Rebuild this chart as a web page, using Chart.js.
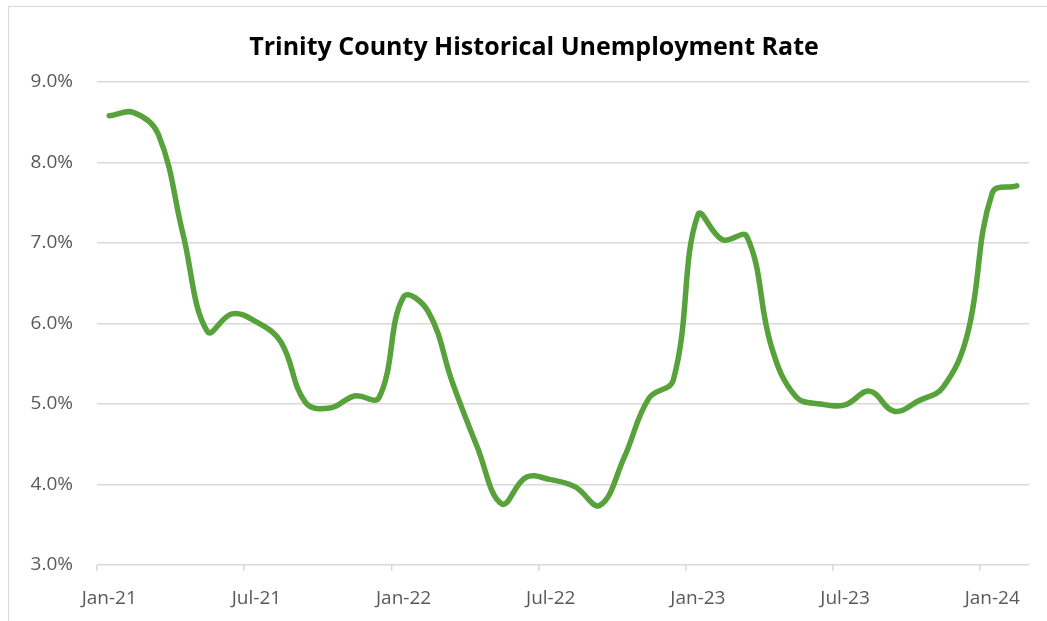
<!DOCTYPE html>
<html>
<head>
<meta charset="utf-8">
<title>Trinity County Historical Unemployment Rate</title>
<script src="https://cdn.jsdelivr.net/npm/chart.js@4/dist/chart.umd.min.js"></script>
<style>
  html, body { margin: 0; padding: 0; background: #fff; overflow: hidden; }
  #wrap { position: relative; width: 1047px; height: 621px; }
  #frame {
    position: absolute; left: 8px; top: 6px; width: 1100px; height: 700px;
    border-left: 1.5px solid #d9d9d9; border-top: 1.5px solid #d9d9d9;
    pointer-events: none;
  }
</style>
</head>
<body>
<div id="wrap">
  <canvas id="rateChart" width="1047" height="621"></canvas>
  <div id="frame"></div>
</div>
<script>
// Trinity County unemployment, monthly Jan-21 .. Feb-24
const MONTHS = [
  'Jan-21','Feb-21','Mar-21','Apr-21','May-21','Jun-21','Jul-21','Aug-21','Sep-21','Oct-21','Nov-21','Dec-21',
  'Jan-22','Feb-22','Mar-22','Apr-22','May-22','Jun-22','Jul-22','Aug-22','Sep-22','Oct-22','Nov-22','Dec-22',
  'Jan-23','Feb-23','Mar-23','Apr-23','May-23','Jun-23','Jul-23','Aug-23','Sep-23','Oct-23','Nov-23','Dec-23',
  'Jan-24','Feb-24'
];
const RATES = [
  8.58, 8.62, 8.35, 7.12, 5.90, 6.12, 6.02, 5.77, 5.02, 4.95, 5.10, 5.08,
  6.33, 6.15, 5.26, 4.47, 3.76, 4.09, 4.06, 3.97, 3.74, 4.34, 5.07, 5.30,
  7.35, 7.04, 7.08, 5.71, 5.09, 5.00, 4.99, 5.16, 4.91, 5.04, 5.21, 5.88,
  7.62, 7.71
];
const Y_MIN = 3;
const Y_MAX = 9;
const LABEL_EVERY = 6; // one x label per half year
const TITLE = 'Trinity County Historical Unemployment Rate';

const GRID = '#d9d9d9';
const TEXT = '#595959';
const GREEN = '#58a23c';

// title sits a little left of the plot centre, so draw it ourselves
const titlePlugin = {
  id: 'fixedTitle',
  afterDraw(chart) {
    const c = chart.ctx;
    c.save();
    c.font = 'bold 25px "Open Sans"';
    c.fillStyle = '#000';
    c.textAlign = 'center';
    c.textBaseline = 'middle';
    c.fillText(TITLE, 534, 48);
    c.restore();
  }
};

const ctx = document.getElementById('rateChart').getContext('2d');
new Chart(ctx, {
  type: 'line',
  data: {
    labels: MONTHS,
    datasets: [{
      label: 'Unemployment Rate',
      data: RATES,
      borderColor: GREEN,
      backgroundColor: 'transparent',
      borderWidth: 5.5,
      borderCapStyle: 'round',
      borderJoinStyle: 'round',
      tension: 0.4,
      pointRadius: 0,
      pointHoverRadius: 0,
    }]
  },
  plugins: [titlePlugin],
  options: {
    responsive: false,
    animation: false,
    layout: { padding: { left: 10, right: 18, top: 82, bottom: 0 } },
    plugins: {
      legend: { display: false },
      tooltip: { enabled: false },
      title: { display: false }
    },
    scales: {
      x: {
        offset: true,
        border: { display: false },
        grid: {
          offset: true,
          drawOnChartArea: false,
          tickLength: 6,
          lineWidth: 1.5,
          color: c => (c.index % LABEL_EVERY === 0 ? GRID : 'transparent')
        },
        ticks: {
          autoSkip: false,
          maxRotation: 0,
          padding: 16,
          color: TEXT,
          font: { family: 'Open Sans', size: 19 },
          callback: (v, i) => (i % LABEL_EVERY === 0 ? MONTHS[i] : '')
        },
        afterFit: s => { s.height = 56; }
      },
      y: {
        min: Y_MIN,
        max: Y_MAX,
        border: { display: false },
        grid: { color: GRID, lineWidth: 1.5, drawTicks: false },
        ticks: {
          stepSize: 1,
          padding: 24,
          color: TEXT,
          font: { family: 'Open Sans', size: 19 },
          callback: v => v.toFixed(1) + '%'
        },
        afterFit: s => { s.width = 87; }
      }
    }
  }
});
</script>
</body>
</html>
